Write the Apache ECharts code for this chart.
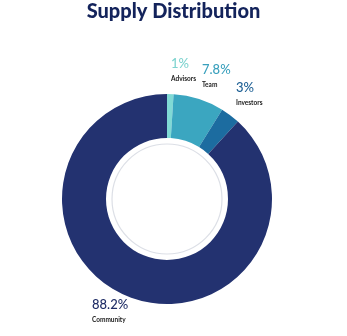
<!DOCTYPE html>
<html>
<head>
<meta charset="utf-8">
<script src="https://cdn.jsdelivr.net/npm/echarts@6/dist/echarts.min.js"></script>
<style>
  html, body { margin: 0; padding: 0; background: #ffffff; }
  #chart { width: 347px; height: 336px; }
</style>
</head>
<body>
<div id="chart"></div>
<script>
// Token allocation, listed clockwise from 12 o'clock
const categories = ['Advisors', 'Team', 'Investors', 'Community'];
const shares = [1, 7.8, 3, 88.2];
const sliceColors = ['#80dad5', '#3ba6c0', '#1c6ca0', '#233270'];
const valueColors = ['#7ed3cf', '#3aa0bd', '#1d5f94', '#1f2d66'];

// Where each label block sits (left edge / top edge)
const labelSpots = [
  { x: 171, y: 54 },
  { x: 202, y: 60 },
  { x: 236, y: 78 },
  { x: 92, y: 295 }
];

const chart = echarts.init(document.getElementById('chart'), null, { renderer: 'canvas' });

const cx = 167, cy = 199;

chart.setOption({
  animation: false,
  backgroundColor: '#ffffff',
  title: {
    text: 'Supply Distribution',
    left: 'center',
    top: -3,
    textStyle: {
      fontFamily: 'Lato',
      fontWeight: 900,
      fontSize: 20,
      color: '#13235b'
    }
  },
  graphic: [{
    type: 'circle',
    shape: { cx: cx, cy: cy, r: 55 },
    style: { fill: '#ffffff', stroke: '#dcdfe6', lineWidth: 1.2 },
    z: 1
  }],
  series: [{
    type: 'pie',
    center: [cx, cy],
    radius: [61, 105],
    startAngle: 90,
    clockwise: true,
    avoidLabelOverlap: false,
    data: categories.map((name, i) => ({
      name: name,
      value: shares[i],
      itemStyle: { color: sliceColors[i] },
      label: {
        rich: {
          v: { color: valueColors[i] }
        }
      }
    })),
    label: {
      show: true,
      position: 'outside',
      formatter: p => '{v|' + p.value + '%}\n{n|' + p.name + '}',
      rich: {
        v: { fontFamily: 'Lato', fontSize: 13, fontWeight: 500, lineHeight: 19 },
        n: { fontFamily: 'Lato', fontSize: 6.5, fontWeight: 700, color: '#222222', lineHeight: 12 }
      }
    },
    labelLine: { show: false },
    labelLayout: p => ({
      x: labelSpots[p.dataIndex].x,
      y: labelSpots[p.dataIndex].y,
      align: 'left',
      verticalAlign: 'top'
    }),
    emphasis: { disabled: true }
  }]
});
</script>
</body>
</html>
